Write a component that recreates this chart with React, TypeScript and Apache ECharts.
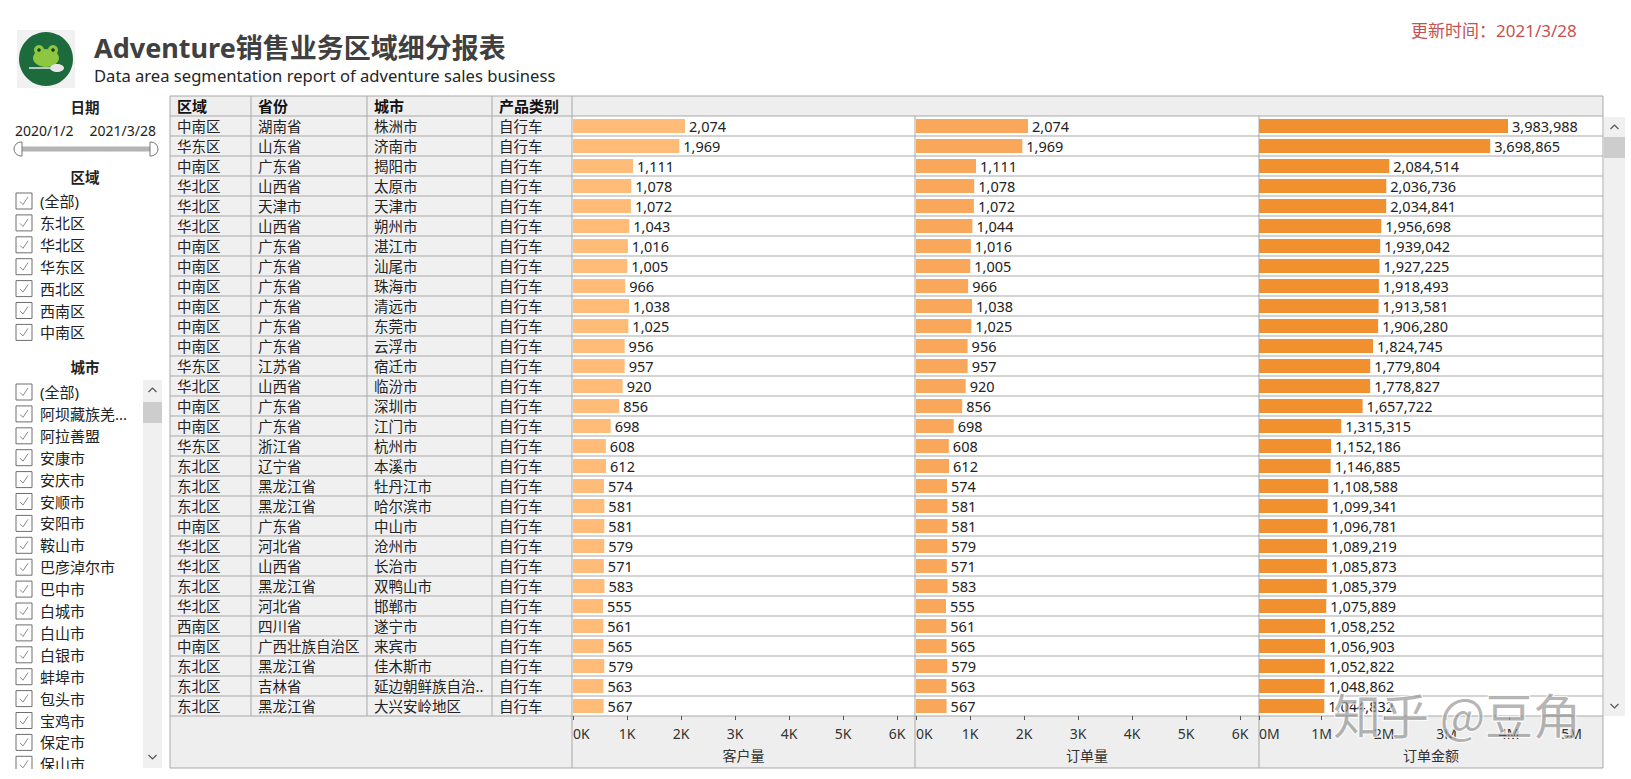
import React, { useEffect, useRef } from "react";
import * as echarts from "echarts";

// ---------- data ----------
const regions = ["中南区", "华东区", "中南区", "华北区", "华北区", "华北区", "中南区", "中南区", "中南区", "中南区", "中南区", "中南区", "华东区", "华北区", "中南区", "中南区", "华东区", "东北区", "东北区", "东北区", "中南区", "华北区", "华北区", "东北区", "华北区", "西南区", "中南区", "东北区", "东北区", "东北区"];
const provinces = ["湖南省", "山东省", "广东省", "山西省", "天津市", "山西省", "广东省", "广东省", "广东省", "广东省", "广东省", "广东省", "江苏省", "山西省", "广东省", "广东省", "浙江省", "辽宁省", "黑龙江省", "黑龙江省", "广东省", "河北省", "山西省", "黑龙江省", "河北省", "四川省", "广西壮族自治区", "黑龙江省", "吉林省", "黑龙江省"];
const cities = ["株洲市", "济南市", "揭阳市", "太原市", "天津市", "朔州市", "湛江市", "汕尾市", "珠海市", "清远市", "东莞市", "云浮市", "宿迁市", "临汾市", "深圳市", "江门市", "杭州市", "本溪市", "牡丹江市", "哈尔滨市", "中山市", "沧州市", "长治市", "双鸭山市", "邯郸市", "遂宁市", "来宾市", "佳木斯市", "延边朝鲜族自治州", "大兴安岭地区"];
const products = cities.map(() => "自行车");
const customers = [2074, 1969, 1111, 1078, 1072, 1043, 1016, 1005, 966, 1038, 1025, 956, 957, 920, 856, 698, 608, 612, 574, 581, 581, 579, 571, 583, 555, 561, 565, 579, 563, 567];
const orders = [2074, 1969, 1111, 1078, 1072, 1044, 1016, 1005, 966, 1038, 1025, 956, 957, 920, 856, 698, 608, 612, 574, 581, 581, 579, 571, 583, 555, 561, 565, 579, 563, 567];
const amounts = [3983988, 3698865, 2084514, 2036736, 2034841, 1956698, 1939042, 1927225, 1918493, 1913581, 1906280, 1824745, 1779804, 1778827, 1657722, 1315315, 1152186, 1146885, 1108588, 1099341, 1096781, 1089219, 1085873, 1085379, 1075889, 1058252, 1056903, 1052822, 1048862, 1044832];

const headers = ["区域", "省份", "城市", "产品类别"];
const measureNames = ["客户量", "订单量", "订单金额"];
const regionFilter = ["(全部)", "东北区", "华北区", "华东区", "西北区", "西南区", "中南区"];
const cityFilter = ["(全部)", "阿坝藏族羌族自治州", "阿拉善盟", "安康市", "安庆市", "安顺市", "安阳市", "鞍山市", "巴彦淖尔市", "巴中市", "白城市", "白山市", "白银市", "蚌埠市", "包头市", "宝鸡市", "保定市", "保山市"];
const dateRange = ["2020/1/2", "2021/3/28"];

const FONT = '"Segoe UI", "Noto Sans", "Noto Sans CJK SC", sans-serif';
const LINE = "#A9A9A9";

const fmt = (v: number) => v.toLocaleString("en-US");

export default function App() {
  const ref = useRef<HTMLDivElement>(null);

  useEffect(() => {
    if (!ref.current) return;
    const chart = echarts.init(ref.current, undefined, { renderer: "svg" });

    const TOP = 116;
    const ROWH = 20;
    const n = cities.length;
    const BOTTOM = TOP + ROWH * n; // 716
    const FOOT = 768;
    const TL = 170;
    const TR = 1603;
    const colX = [170, 251, 367, 492, 572, 915, 1259, 1603];

    const textCols = [
      { data: regions, left: 170, width: 81 },
      { data: provinces, left: 251, width: 116 },
      { data: cities, left: 367, width: 125 },
      { data: products, left: 492, width: 80 },
    ];
    const barCols = [
      { data: customers, left: 573, width: 324, max: 6000, interval: 1000, div: 1000, unit: "K", color: "#FFBC79" },
      { data: orders, left: 916, width: 324, max: 6000, interval: 1000, div: 1000, unit: "K", color: "#F9A75A" },
      { data: amounts, left: 1259, width: 312.5, max: 5000000, interval: 1000000, div: 1000000, unit: "M", color: "#F0902F" },
    ];

    const grids: any[] = [];
    const xAxes: any[] = [];
    const yAxes: any[] = [];
    const series: any[] = [];

    textCols.forEach((c, i) => {
      grids.push({ left: c.left, width: c.width, top: TOP, height: ROWH * n });
      xAxes.push({ type: "value", gridIndex: i, show: false, min: 0, max: 1 });
      yAxes.push({
        type: "category",
        gridIndex: i,
        data: c.data,
        inverse: true,
        axisLine: { show: false },
        axisTick: { show: false },
        splitLine: { show: false },
        axisLabel: {
          interval: 0,
          align: "left",
          margin: -7,
          fontSize: 14.5,
          color: "#222",
          fontFamily: FONT,
          width: c.width - 12,
          overflow: "truncate",
          ellipsis: "..",
        },
      });
    });

    barCols.forEach((c, j) => {
      const gi = textCols.length + j;
      grids.push({ left: c.left, width: c.width, top: TOP, height: ROWH * n });
      xAxes.push({
        type: "value",
        gridIndex: gi,
        min: 0,
        max: c.max,
        interval: c.interval,
        position: "bottom",
        axisLine: { show: false },
        axisTick: { show: true, length: 4, lineStyle: { color: "#555" } },
        splitLine: { show: false },
        axisLabel: {
          margin: 10,
          fontSize: 14,
          color: "#333",
          fontFamily: FONT,
          alignMinLabel: "left",
          formatter: (v: number) => `${Math.round(v / c.div)}${c.unit}`,
        },
      });
      yAxes.push({ type: "category", gridIndex: gi, data: cities, inverse: true, show: false });
      series.push({
        type: "bar",
        xAxisIndex: gi,
        yAxisIndex: gi,
        data: c.data,
        barWidth: 14,
        itemStyle: { color: c.color },
        label: {
          show: true,
          position: "right",
          distance: 4,
          fontSize: 14.5,
          color: "#222",
          fontFamily: FONT,
          formatter: (p: any) => fmt(p.value),
        },
      });
    });

    const g: any[] = [];
    const text = (x: number, y: number, t: string, o: any = {}) =>
      g.push({
        type: "text",
        x,
        y,
        z: o.z ?? 5,
        style: {
          text: t,
          fill: o.fill ?? "#222",
          fontSize: o.size ?? 14.5,
          fontWeight: o.bold ? "bold" : "normal",
          fontFamily: o.family ?? FONT,
          align: o.align ?? "left",
          verticalAlign: "middle",
          width: o.width,
          overflow: o.width ? "truncate" : undefined,
          ellipsis: o.ellipsis,
          stroke: o.stroke,
          lineWidth: o.lineWidth,
          opacity: o.opacity,
        },
      });
    const rect = (x: number, y: number, w: number, h: number, fill: string, o: any = {}) =>
      g.push({ type: "rect", z: o.z ?? -10, shape: { x, y, width: w, height: h, r: o.r ?? 0 }, style: { fill, stroke: o.stroke, lineWidth: o.lineWidth ?? 1 } });
    const line = (x1: number, y1: number, x2: number, y2: number, color = LINE, z = -5) =>
      g.push({ type: "line", z, shape: { x1, y1, x2, y2 }, style: { stroke: color, lineWidth: 1 } });
    const chevron = (cx: number, cy: number, up: boolean) =>
      g.push({
        type: "polyline",
        z: 6,
        shape: { points: up ? [[cx - 4, cy + 2], [cx, cy - 2], [cx + 4, cy + 2]] : [[cx - 4, cy - 2], [cx, cy + 2], [cx + 4, cy - 2]] },
        style: { stroke: "#555", lineWidth: 1.2, fill: "none" },
      });
    const checkbox = (x: number, cy: number) => {
      rect(x, cy - 8, 16, 16, "#fff", { stroke: "#6E6E6E", z: 4 });
      g.push({
        type: "polyline",
        z: 5,
        shape: { points: [[x + 4, cy + 0.5], [x + 7, cy + 3.5], [x + 12, cy - 4]] },
        style: { stroke: "#8A8A8A", lineWidth: 1, fill: "none" },
      });
    };

    // ---------- header ----------
    // logo
    rect(17, 30, 58, 58, "#F1F1F1", { z: 1 });
    g.push({ type: "circle", z: 2, shape: { cx: 46, cy: 59, r: 27 }, style: { fill: "#1D6A3C" } });
    g.push({ type: "ellipse", z: 3, shape: { cx: 46, cy: 58, rx: 13, ry: 9 }, style: { fill: "#8DC63F" } });
    g.push({ type: "circle", z: 3, shape: { cx: 39, cy: 50, r: 5 }, style: { fill: "#8DC63F" } });
    g.push({ type: "circle", z: 3, shape: { cx: 53, cy: 50, r: 5 }, style: { fill: "#8DC63F" } });
    g.push({ type: "circle", z: 4, shape: { cx: 39, cy: 50, r: 1.8 }, style: { fill: "#1D3A1D" } });
    g.push({ type: "circle", z: 4, shape: { cx: 53, cy: 50, r: 1.8 }, style: { fill: "#1D3A1D" } });
    g.push({ type: "line", z: 4, shape: { x1: 29, y1: 68, x2: 50, y2: 68 }, style: { stroke: "#E8E8E8", lineWidth: 1.5 } });
    g.push({ type: "ellipse", z: 4, shape: { cx: 57, cy: 68, rx: 7, ry: 4 }, style: { fill: "#E6E6E6" } });

    text(94, 47, "Adventure销售业务区域细分报表", { size: 27, bold: true, fill: "#404040" });
    text(94, 75, "Data area segmentation report of adventure sales business", { size: 16.6, fill: "#252525" });
    text(1411, 30, "更新时间：2021/3/28", { size: 17, fill: "#C8504F" });

    // ---------- left panel ----------
    text(85, 107, "日期", { bold: true, align: "center" });
    text(15, 130, dateRange[0], { size: 14 });
    text(156, 130, dateRange[1], { size: 14, align: "right" });
    g.push({ type: "line", z: 3, shape: { x1: 20, y1: 149, x2: 152, y2: 149 }, style: { stroke: "#B4B4B4", lineWidth: 5 } });
    rect(14, 142, 8, 14, "#fff", { stroke: "#777", r: [7, 0, 0, 7], z: 4 });
    rect(150, 142, 8, 14, "#fff", { stroke: "#777", r: [0, 7, 7, 0], z: 4 });

    text(85, 177, "区域", { bold: true, align: "center" });
    regionFilter.forEach((t, i) => {
      const cy = 201 + i * 21.9;
      checkbox(16, cy);
      text(40, cy, t, { size: 15 });
    });

    text(85, 367, "城市", { bold: true, align: "center" });
    cityFilter.forEach((t, i) => {
      const cy = 392 + i * 21.9;
      checkbox(16, cy);
      text(40, cy, t, { size: 15, width: 90, ellipsis: "..." });
    });
    rect(143, 380, 19, 388, "#F0F0F0", { z: 3 });
    rect(143, 402, 19, 21, "#CDCDCD", { z: 4 });
    chevron(152.5, 390, true);
    chevron(152.5, 757, false);
    rect(0, 769, 168, 10, "#fff", { z: 50 });

    // ---------- table frame ----------
    rect(TL, 96, TR - TL, 20, "#EEEEEE");
    rect(TL, TOP, colX[4] - TL, ROWH * n, "#F0F0F0");
    rect(colX[4], TOP, TR - colX[4], ROWH * n, "#FFFFFF");
    rect(TL, BOTTOM, TR - TL, FOOT - BOTTOM, "#EEEEEE");
    headers.forEach((h, i) => text(colX[i] + 7, 106, h, { bold: true, size: 15, fill: "#111" }));
    for (let k = 0; k <= n; k++) line(TL, TOP + k * ROWH, TR, TOP + k * ROWH);
    line(TL, 96, TR, 96);
    line(TL, FOOT, TR, FOOT);
    line(TL, 96, TL, FOOT);
    line(TR, 96, TR, FOOT);
    for (let i = 1; i <= 3; i++) line(colX[i], 96, colX[i], BOTTOM);
    line(colX[4], 96, colX[4], FOOT);
    line(colX[5], TOP, colX[5], FOOT);
    line(colX[6], TOP, colX[6], FOOT);
    measureNames.forEach((m, j) => text((colX[4 + j] + colX[5 + j]) / 2, 755, m, { size: 14, align: "center", fill: "#333" }));

    // right scrollbar
    rect(1604, 117, 21, BOTTOM - 117, "#F0F0F0", { z: 3 });
    rect(1604, 137, 21, 21, "#CDCDCD", { z: 4 });
    chevron(1614.5, 127, true);
    chevron(1614.5, 706, false);

    // watermark
    text(1457, 713, "知乎 @豆角", { size: 48, align: "center", fill: "rgba(110,110,110,0.5)", stroke: "rgba(255,255,255,0.85)", lineWidth: 2, z: 100, family: '"Noto Sans CJK SC", sans-serif' });

    chart.setOption({
      animation: false,
      textStyle: { fontFamily: FONT },
      grid: grids,
      xAxis: xAxes,
      yAxis: yAxes,
      series,
      graphic: { elements: g },
    });

    return () => chart.dispose();
  }, []);

  return <div ref={ref} style={{ position: "absolute", left: 0, top: 0, width: 1631, height: 779, background: "#fff" }} />;
}
